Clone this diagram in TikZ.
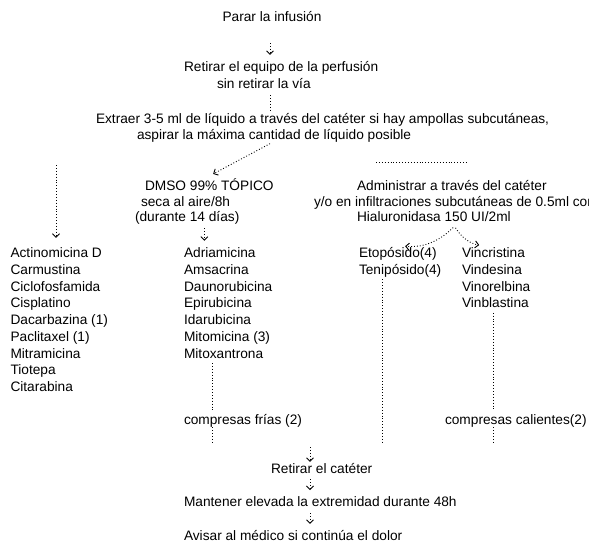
\documentclass[tikz,border=0pt]{standalone}
\usepackage{fontspec}
\setmainfont{Liberation Sans}
\usetikzlibrary{arrows.meta,calc}
\newcommand{\mylines}[1]{\begin{tabular}[t]{@{}l@{}}#1\end{tabular}}
\begin{document}
\begin{tikzpicture}[x=1pt,y=-1pt,
  txt/.style={inner sep=0pt, outer sep=0pt, font=\fontsize{13.7}{16.75}\selectfont},
  txtb/.style={inner sep=0pt, outer sep=0pt, font=\fontsize{13.7}{15.5}\selectfont},
  conn/.style={dotted, line width=0.9pt},
  arr/.style={conn, -{Straight Barb[length=3.5pt,width=7pt]}}]
\useasboundingbox (0,0) rectangle (589,542);
% nodes
\node[txt, anchor=base] (parar) at (272,21.5) {Parar la infusión};
\node[txt, anchor=base west] (retirar) at (184,71.5) {\mylines{Retirar el equipo de la perfusión\\\hspace*{33pt}sin retirar la vía}};
\node[txtb, anchor=base west] (extraer) at (96,123.5) {\mylines{Extraer 3-5 ml de líquido a través del catéter si hay ampollas subcutáneas,\\\hspace*{41pt}aspirar la máxima cantidad de líquido posible}};
\node[txtb, anchor=base west] (dmso) at (135,190.5) {\mylines{\hspace*{10pt}DMSO 99\% TÓPICO\\\hspace*{6pt}seca al aire/8h\\(durante 14 días)}};
\node[txtb, anchor=base west] (adm) at (314,190.5) {\mylines{\hspace*{43pt}Administrar a través del catéter\\y/o en infiltraciones subcutáneas de 0.5ml con\\\hspace*{43pt}Hialuronidasa 150 UI/2ml}};
\node[txt, anchor=base west] (left) at (10.5,257.5) {\mylines{Actinomicina D\\Carmustina\\Ciclofosfamida\\Cisplatino\\Dacarbazina (1)\\Paclitaxel (1)\\Mitramicina\\Tiotepa\\Citarabina}};
\node[txt, anchor=base west] (mid) at (184,257.5) {\mylines{Adriamicina\\Amsacrina\\Daunorubicina\\Epirubicina\\Idarubicina\\Mitomicina (3)\\Mitoxantrona}};
\node[txt, anchor=base west] (etop) at (359,257.5) {\mylines{Etopósido(4)\\Tenipósido(4)}};
\node[txt, anchor=base west] (vinca) at (462,257.5) {\mylines{Vincristina\\Vindesina\\Vinorelbina\\Vinblastina}};
\node[txt, anchor=base west] (cfrias) at (184,424.5) {compresas frías (2)};
\node[txt, anchor=base west] (ccal) at (445,424.5) {compresas calientes(2)};
\node[txt, anchor=base west] (retcat) at (271,473.5) {Retirar el catéter};
\node[txt, anchor=base west] (mant) at (184,506.5) {Mantener elevada la extremidad durante 48h};
\node[txt, anchor=base west] (avisar) at (184,540.5) {Avisar al médico si continúa el dolor};
% helper coordinates
\coordinate (axis) at (270,0);
\coordinate (lt) at (56,165);
\coordinate (h1) at (376,162);
\coordinate (h2) at (468,162);
\coordinate (mx) at (212,0);
\coordinate (ex) at (382,0);
\coordinate (vx) at (493,0);
\coordinate (bot) at (0,444);
\coordinate (jn) at (310,447);
% connectors
\draw[arr, shorten <=21.5pt, shorten >=4.8pt] (axis |- parar.south) -- (axis |- retirar.north);
\draw[conn, shorten <=2pt, shorten >=2.5pt] (axis |- retirar.south) -- (axis |- extraer.north);
\draw[arr, shorten >=10pt] (axis |- extraer.south) -- (dmso.north);
\draw[conn] (h1) -- (h2);
\draw[arr, shorten >=8pt] (lt) -- (lt |- left.north);
\draw[arr, shorten <=2pt, shorten >=5pt] (dmso.south) -- (dmso.south |- mid.north);
\draw[arr, shorten <=2pt, shorten >=5pt] (adm.south) to[bend left=25] (etop.north);
\draw[arr, shorten <=2pt, shorten >=5pt] (adm.south) to[bend right=25] ([xshift=-12pt]vinca.north);
\draw[conn] (ex |- etop.south) -- (ex |- bot);
\draw[conn, shorten >=4pt] (vx |- vinca.south) -- (vx |- ccal.north);
\draw[conn] (vx |- ccal.south) -- (vx |- bot);
\draw[conn, shorten >=3pt] (mx |- mid.south) -- (mx |- cfrias.north);
\draw[conn] (mx |- cfrias.south) -- (mx |- bot);
\draw[arr, shorten >=1.5pt] (jn) -- (jn |- retcat.north);
\draw[arr, shorten <=5.5pt, shorten >=6.5pt] (jn |- retcat.south) -- (jn |- mant.north);
\draw[arr, shorten <=6.5pt, shorten >=6.5pt] (jn |- mant.south) -- (jn |- avisar.north);
\end{tikzpicture}
\end{document}
